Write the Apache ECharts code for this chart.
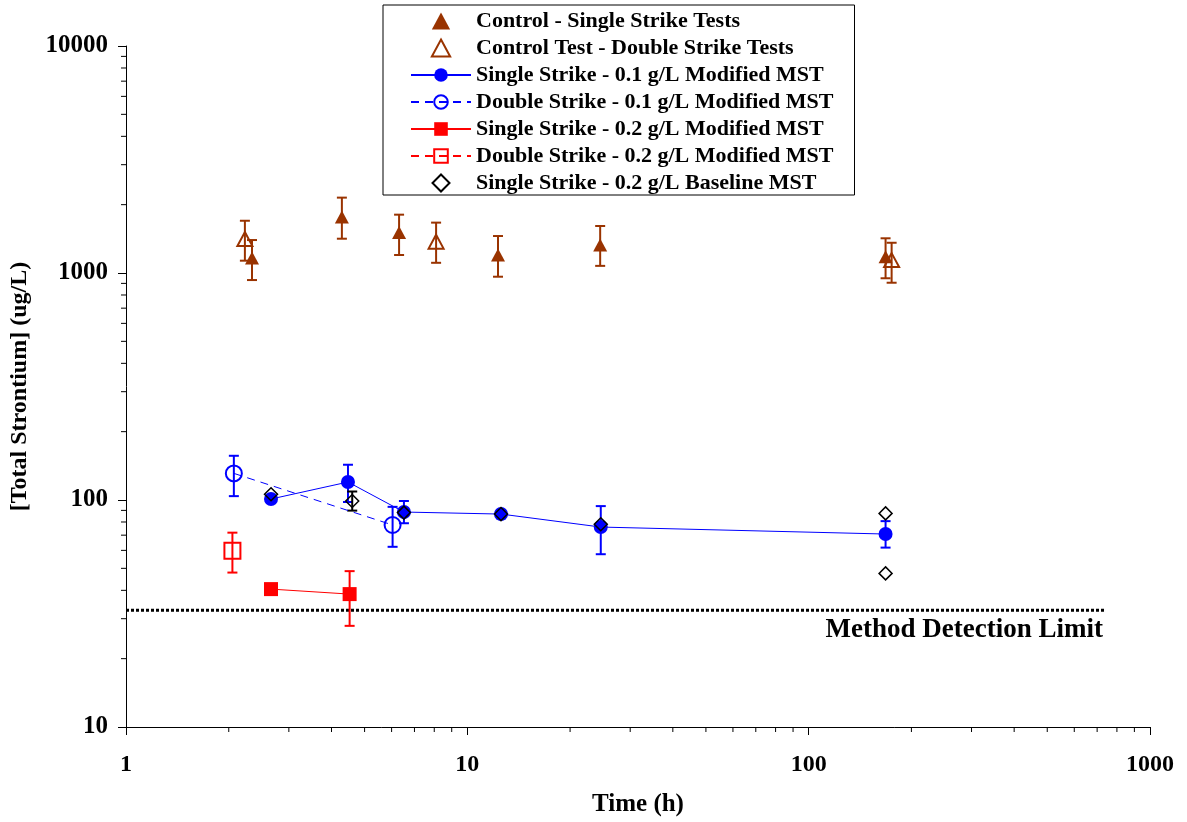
<!DOCTYPE html>
<html>
<head>
<meta charset="utf-8">
<script src="https://cdn.jsdelivr.net/npm/echarts@6/dist/echarts.min.js"></script>
<style>
html,body{margin:0;padding:0;background:#fff;}
#chart{width:1187px;height:822px;}
</style>
</head>
<body>
<div id="chart"></div>
<script>
// ---- data ----
const xTicks = [1, 10, 100, 1000];
const yTicks = [10, 100, 1000, 10000];

const ctrlSS_x  = [2.34, 4.29, 6.31, 12.3, 24.5, 168];
const ctrlSS_y  = [1164, 1767, 1507, 1200, 1328, 1180];
const ctrlSS_lo = [931, 1416, 1200, 963, 1075, 948];
const ctrlSS_hi = [1397, 2148, 1807, 1455, 1611, 1422];

const ctrlDS_x  = [2.23, 8.1, 175];
const ctrlDS_y  = [1412, 1374, 1140];
const ctrlDS_lo = [1133, 1109, 906];
const ctrlDS_hi = [1699, 1667, 1359];

const ss01_x  = [2.66, 4.47, 6.52, 12.55, 24.6, 168];
const ss01_y  = [101, 120, 88.5, 86.7, 76, 70.8];
const ss01_lo = [101, 98, 79, 83, 57.7, 61.7];
const ss01_hi = [101, 143, 99, 90, 94, 80.7];

const ds01_x  = [2.07, 6.04];
const ds01_y  = [131, 77.6];
const ds01_lo = [104, 62.2];
const ds01_hi = [156.6, 93.3];

const ss02_x  = [2.66, 4.52];
const ss02_y  = [40.5, 38.5];
const ss02_lo = [40.5, 27.9];
const ss02_hi = [40.5, 48.6];

const ds02_x  = [2.05];
const ds02_y  = [59.8];
const ds02_lo = [47.9];
const ds02_hi = [71.8];

const base_x  = [2.66, 4.6, 6.52, 12.55, 24.6, 168, 168];
const base_y  = [106, 99, 88, 86.7, 78.2, 87.3, 47.5];
const base_lo = [106, 89.8, 88, 86.7, 78.2, 87.3, 47.5];
const base_hi = [106, 109, 88, 86.7, 78.2, 87.3, 47.5];

const mdlValue = 32.7;
const mdlRange = [1, 738];
const mdlLabel = 'Method Detection Limit';

const names = [
  'Control - Single Strike Tests',
  'Control Test - Double Strike Tests',
  'Single Strike - 0.1 g/L Modified MST',
  'Double Strike - 0.1 g/L Modified MST',
  'Single Strike - 0.2 g/L Modified MST',
  'Double Strike - 0.2 g/L Modified MST',
  'Single Strike - 0.2 g/L Baseline MST'
];

// ---- helpers ----
const BROWN = '#993300', BLUE = '#0000ff', RED = '#ff0000', BLACK = '#000000';
const FONT = '"Liberation Serif", "Times New Roman", serif';
const TRI = 'path://M7,0 L14,13 L0,13 Z';
const DIA = 'path://M6,0 L12,6 L6,12 L0,6 Z';

function pts(xs, ys) { return xs.map((x, i) => [x, ys[i]]); }
function errData(xs, lo, hi) { return xs.map((x, i) => [x, lo[i], hi[i]]); }

function errSeries(xs, lo, hi, color) {
  return {
    type: 'custom', silent: true, z: 2,
    encode: { x: 0, y: [1, 2] },
    data: errData(xs, lo, hi),
    renderItem: function (params, api) {
      const x = api.value(0), l = api.value(1), h = api.value(2);
      if (l === h) return null;
      const p1 = api.coord([x, l]), p2 = api.coord([x, h]);
      const w = 5;
      const st = { stroke: color, lineWidth: 2 };
      return { type: 'group', children: [
        { type: 'line', shape: { x1: p1[0], y1: p1[1], x2: p2[0], y2: p2[1] }, style: st },
        { type: 'line', shape: { x1: p1[0] - w, y1: p1[1], x2: p1[0] + w, y2: p1[1] }, style: st },
        { type: 'line', shape: { x1: p2[0] - w, y1: p2[1], x2: p2[0] + w, y2: p2[1] }, style: st }
      ]};
    }
  };
}

// minor tick values (2..9 of each decade)
const xMinor = [], yMinor = [];
for (let d = 1; d < 1000; d *= 10) for (let k = 2; k <= 9; k++) xMinor.push(k * d);
for (let d = 10; d < 10000; d *= 10) for (let k = 2; k <= 9; k++) yMinor.push(k * d);

const minorX = {
  type: 'custom', silent: true, clip: false,
  data: xMinor.map(v => [v, 10]),
  renderItem: function (params, api) {
    const p = api.coord([api.value(0), api.value(1)]);
    return { type: 'line', shape: { x1: p[0], y1: p[1], x2: p[0], y2: p[1] + 5 }, style: { stroke: '#000', lineWidth: 1 } };
  }
};
const minorY = {
  type: 'custom', silent: true, clip: false,
  data: yMinor.map(v => [1, v]),
  renderItem: function (params, api) {
    const p = api.coord([api.value(0), api.value(1)]);
    return { type: 'line', shape: { x1: p[0] - 5, y1: p[1], x2: p[0], y2: p[1] }, style: { stroke: '#000', lineWidth: 1 } };
  }
};

const hollow = (c, w) => ({ color: 'rgba(255,255,255,0)', borderColor: c, borderWidth: w, opacity: 1 });

const option = {
  animation: false,
  backgroundColor: '#fff',
  textStyle: { fontFamily: FONT },
  grid: { left: 126, right: 37, top: 46, bottom: 95 },
  legend: {
    data: names,
    orient: 'vertical',
    left: 383, top: 5,
    padding: [5, 21, 1, 27],
    borderColor: '#000', borderWidth: 1,
    itemWidth: 60, itemHeight: 17, itemGap: 5,
    textStyle: { fontFamily: FONT, fontWeight: 'bold', fontSize: 22, color: '#000' }
  },
  xAxis: {
    type: 'log', logBase: 10, min: 1, max: 1000,
    name: 'Time (h)', nameLocation: 'middle', nameGap: 65,
    nameTextStyle: { fontFamily: FONT, fontWeight: 'bold', fontSize: 25, color: '#000' },
    axisLine: { lineStyle: { color: '#000', width: 1 } },
    axisTick: { length: 8, lineStyle: { color: '#000' } },
    axisLabel: { margin: 26, fontFamily: FONT, fontWeight: 'bold', fontSize: 24, color: '#000',
      formatter: v => String(Math.round(v)) },
    splitLine: { show: false }
  },
  yAxis: {
    type: 'log', logBase: 10, min: 10, max: 10000,
    name: '[Total Strontium] (ug/L)', nameLocation: 'middle', nameGap: 94,
    nameTextStyle: { fontFamily: FONT, fontWeight: 'bold', fontSize: 24, color: '#000' },
    axisLine: { show: true, lineStyle: { color: '#000', width: 1 } },
    axisTick: { show: true, length: 8, lineStyle: { color: '#000' } },
    axisLabel: { margin: 18, fontFamily: FONT, fontWeight: 'bold', fontSize: 25, color: '#000',
      formatter: v => String(Math.round(v)) },
    splitLine: { show: false }
  },
  series: [
    minorX, minorY,
    {
      name: 'mdl', type: 'line', silent: true, z: 1,
      data: [[mdlRange[0], mdlValue], { value: [mdlRange[1], mdlValue],
        label: { show: true, formatter: mdlLabel, position: 'bottom', align: 'right', distance: 6, offset: [-2, 0],
          fontFamily: FONT, fontWeight: 'bold', fontSize: 27, color: '#000' } }],
      symbol: 'circle', symbolSize: 0, showSymbol: true,
      lineStyle: { color: '#000', width: 3, type: [3, 2] }
    },
    errSeries(ctrlSS_x, ctrlSS_lo, ctrlSS_hi, BROWN),
    errSeries(ctrlDS_x, ctrlDS_lo, ctrlDS_hi, BROWN),
    errSeries(ss01_x, ss01_lo, ss01_hi, BLUE),
    errSeries(ds01_x, ds01_lo, ds01_hi, BLUE),
    errSeries(ss02_x, ss02_lo, ss02_hi, RED),
    errSeries(ds02_x, ds02_lo, ds02_hi, RED),
    errSeries(base_x, base_lo, base_hi, BLACK),
    {
      name: names[0], type: 'scatter', z: 5,
      data: pts(ctrlSS_x, ctrlSS_y), symbol: TRI, symbolKeepAspect: true, symbolSize: 14,
      itemStyle: { color: BROWN, opacity: 1 }
    },
    {
      name: names[1], type: 'scatter', z: 5,
      data: pts(ctrlDS_x, ctrlDS_y), symbol: TRI, symbolKeepAspect: true, symbolSize: 15,
      itemStyle: hollow(BROWN, 2)
    },
    {
      name: names[2], type: 'line', z: 5,
      data: pts(ss01_x, ss01_y), symbol: 'circle', symbolSize: 14,
      itemStyle: { color: BLUE, opacity: 1 }, lineStyle: { color: BLUE, width: 1 }
    },
    {
      name: names[3], type: 'line', z: 5,
      data: pts(ds01_x, ds01_y), symbol: 'circle', symbolSize: 16,
      itemStyle: hollow(BLUE, 2), lineStyle: { color: BLUE, width: 1, type: [8, 6] }
    },
    {
      name: names[4], type: 'line', z: 5,
      data: pts(ss02_x, ss02_y), symbol: 'rect', symbolSize: 14,
      itemStyle: { color: RED, opacity: 1 }, lineStyle: { color: RED, width: 1 }
    },
    {
      name: names[5], type: 'line', z: 5,
      data: pts(ds02_x, ds02_y), symbol: 'rect', symbolSize: 16,
      itemStyle: hollow(RED, 2), lineStyle: { color: RED, width: 1, type: [8, 6] }
    },
    {
      name: names[6], type: 'scatter', z: 6,
      data: pts(base_x, base_y), symbol: DIA, symbolKeepAspect: true, symbolSize: 13,
      itemStyle: hollow(BLACK, 1.5)
    }
  ]
};

const chart = echarts.init(document.getElementById('chart'), null, { renderer: 'canvas' });
chart.setOption(option);
</script>
</body>
</html>
